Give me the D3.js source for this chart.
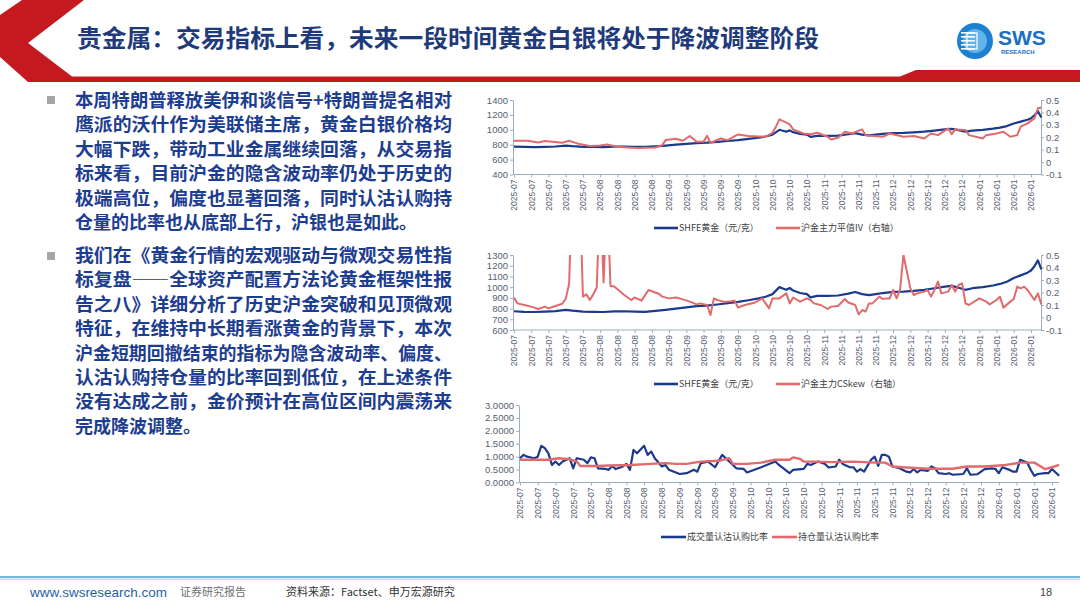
<!DOCTYPE html>
<html lang="zh">
<head>
<meta charset="UTF-8">
<title>贵金属 交易指标</title>
<script src="https://cdn.jsdelivr.net/npm/d3@7"></script>
<style>
  body { margin: 0; background: #fff; }
  svg { display: block; }
  .cjk { font-family: "Noto Sans CJK SC", "Noto Sans", sans-serif; }
  .num { font-family: "Liberation Sans", Arial, sans-serif; }
</style>
</head>
<body>
<svg id="slide" width="1080" height="608"></svg>
<script>
// ---- data (day index = trading day since start) ----
const tickLabelsTop = [
  "2025-07","2025-07","2025-07","2025-07","2025-07",
  "2025-08","2025-08","2025-08","2025-08",
  "2025-09","2025-09","2025-09","2025-09","2025-09",
  "2025-10","2025-10","2025-10","2025-10",
  "2025-11","2025-11","2025-11","2025-11",
  "2025-12","2025-12","2025-12","2025-12","2025-12",
  "2026-01","2026-01","2026-01","2026-01"
];
const tickLabelsBottom = [
  "2025-07","2025-07","2025-07","2025-07","2025-07",
  "2025-08","2025-08","2025-08","2025-08",
  "2025-09","2025-09","2025-09","2025-09",
  "2025-10","2025-10","2025-10","2025-10","2025-10",
  "2025-11","2025-11","2025-11","2025-11",
  "2025-12","2025-12","2025-12","2025-12","2025-12",
  "2026-01","2026-01","2026-01","2026-01"
];

// SHFE gold, yuan/g
const goldPrice = [[0,775],[3,770],[6,768],[9,772],[12,776],[15,788],[17,780],[20,772],[23,770],[26,768],[29,774],[32,775],[35,772],[38,770],[41,778],[44,788],[47,800],[50,812],[53,822],[56,828],[59,838],[62,850],[65,862],[68,878],[71,895],[73,910],[75,935],[77,1000],[78,988],[79,975],[80,992],[81,968],[83,945],[85,935],[86,905],[88,918],[91,918],[94,922],[97,940],[99,955],[101,935],[103,925],[105,935],[107,945],[110,955],[113,958],[116,965],[119,975],[122,990],[125,1005],[127,1012],[129,995],[131,975],[133,990],[136,1000],[139,1015],[141,1030],[143,1050],[145,1085],[147,1110],[149,1135],[150,1155],[151,1195],[152,1250],[153,1165]];

// 沪金主力平值IV (right axis)
const atmIV = [[0,0.172],[4,0.172],[7,0.158],[9,0.169],[14,0.156],[16,0.172],[19,0.145],[22,0.129],[25,0.134],[27,0.142],[30,0.123],[33,0.118],[36,0.113],[41,0.118],[43,0.137],[44,0.177],[47,0.188],[49,0.172],[51,0.21],[53,0.164],[55,0.164],[56,0.212],[57,0.156],[60,0.19],[62,0.177],[65,0.223],[68,0.21],[73,0.204],[75,0.236],[76,0.285],[77,0.344],[79,0.317],[80,0.304],[81,0.263],[84,0.23],[86,0.225],[88,0.236],[91,0.204],[92,0.182],[94,0.196],[96,0.244],[98,0.23],[101,0.263],[102,0.217],[107,0.204],[109,0.23],[113,0.204],[116,0.21],[119,0.19],[121,0.23],[123,0.217],[126,0.271],[127,0.225],[128,0.263],[131,0.258],[132,0.217],[136,0.19],[137,0.217],[140,0.23],[142,0.244],[144,0.204],[146,0.217],[147,0.285],[149,0.312],[151,0.352],[152,0.433],[153,0.44]];

// 沪金主力CSkew (right axis), spikes run off the top of the plot
const cSkew = [[0,0.159],[1,0.113],[3,0.1],[6,0.079],[7,0.068],[9,0.087],[10,0.073],[12,0.092],[14,0.11],[15,0.15],[16,0.27],[17,1.2],[18,1.5],[19,1.1],[20,0.167],[21,0.185],[22,0.14],[23,0.185],[24,0.24],[25,1.0],[26,0.28],[27,1.0],[28,0.25],[29,0.25],[32,0.18],[34,0.14],[35,0.16],[37,0.135],[39,0.22],[42,0.19],[43,0.167],[45,0.153],[47,0.16],[49,0.145],[51,0.127],[53,0.105],[54,0.113],[56,0.1],[57,0.02],[58,0.153],[59,0.14],[61,0.125],[63,0.13],[64,0.135],[65,0.08],[67,0.1],[70,0.12],[72,0.153],[73,0.113],[74,0.073],[75,0.153],[77,0.153],[79,0.193],[80,0.113],[81,0.16],[83,0.127],[85,0.153],[86,0.14],[87,0.113],[89,0.1],[91,0.068],[92,0.087],[94,0.092],[96,0.148],[97,0.12],[99,0.1],[100,0.025],[101,0.06],[102,0.047],[103,0.113],[104,0.113],[106,0.167],[107,0.148],[108,0.153],[109,0.153],[110,0.22],[111,0.153],[112,0.22],[113,0.5],[115,0.233],[116,0.18],[117,0.193],[119,0.207],[120,0.22],[121,0.167],[122,0.22],[123,0.287],[124,0.193],[126,0.207],[127,0.26],[128,0.207],[129,0.26],[130,0.273],[131,0.113],[132,0.1],[135,0.153],[137,0.127],[138,0.105],[140,0.14],[141,0.167],[142,0.079],[144,0.127],[145,0.148],[146,0.247],[147,0.233],[148,0.247],[149,0.22],[151,0.14],[152,0.193],[153,0.105]];

// 成交量认沽认购比率
const volumePCR = [[0,0.94],[1,1.07],[2,1.0],[4,0.94],[5,1.0],[6,1.42],[7,1.33],[8,1.13],[9,0.68],[10,0.81],[11,0.68],[12,0.81],[14,0.94],[15,0.55],[16,0.94],[18,0.88],[19,0.75],[20,0.97],[21,0.94],[22,0.55],[24,0.53],[25,0.49],[26,0.64],[27,0.52],[29,0.62],[30,0.72],[31,0.49],[32,1.26],[33,1.13],[35,1.42],[36,1.07],[37,1.2],[38,0.94],[40,0.62],[41,0.68],[42,0.49],[45,0.33],[47,0.36],[49,0.49],[50,0.42],[51,0.75],[53,0.81],[55,0.59],[57,1.07],[58,0.94],[59,0.81],[61,0.55],[63,0.53],[64,0.39],[68,0.59],[72,0.81],[73,0.68],[76,0.36],[77,0.49],[80,0.53],[81,0.72],[82,0.68],[84,0.81],[86,0.72],[87,0.58],[89,0.62],[90,0.88],[91,0.72],[93,0.59],[94,0.59],[95,0.42],[96,0.52],[97,0.42],[99,0.88],[100,1.0],[101,0.64],[102,1.07],[103,1.07],[104,1.0],[105,0.62],[107,0.55],[109,0.42],[110,0.39],[111,0.52],[112,0.39],[113,0.49],[115,0.45],[116,0.62],[117,0.55],[118,0.36],[120,0.33],[121,0.36],[122,0.3],[125,0.33],[126,0.55],[127,0.3],[129,0.32],[131,0.52],[133,0.55],[134,0.53],[135,0.36],[136,0.59],[138,0.49],[139,0.42],[140,0.42],[141,0.88],[143,0.77],[144,0.49],[145,0.26],[146,0.33],[148,0.36],[149,0.36],[150,0.52],[152,0.26]];

// 持仓量认沽认购比率
const oiPCR = [[0,0.88],[8,0.88],[11,0.94],[14,0.9],[16,0.81],[17,0.64],[22,0.64],[25,0.66],[31,0.68],[37,0.72],[41,0.75],[44,0.72],[47,0.72],[51,0.81],[56,0.84],[59,0.94],[60,0.72],[64,0.72],[68,0.77],[72,0.88],[76,0.88],[77,0.97],[79,0.91],[80,0.81],[83,0.81],[88,0.79],[94,0.81],[100,0.77],[103,0.77],[105,0.62],[109,0.58],[115,0.53],[122,0.53],[126,0.62],[131,0.62],[137,0.68],[141,0.77],[145,0.77],[148,0.52],[150,0.59],[152,0.68]];

const goldTicks = [400, 600, 800, 1000, 1200, 1400];
const goldTicks2 = [600, 700, 800, 900, 1000, 1100, 1200, 1300];
const rightTicks = [-0.1, 0, 0.1, 0.2, 0.3, 0.4, 0.5];
const pcrTicks = [0, 0.5, 1, 1.5, 2, 2.5, 3];

const titleText = "贵金属：交易指标上看，未来一段时间黄金白银将处于降波调整阶段";
const para1 = [
  "本周特朗普释放美伊和谈信号+特朗普提名相对",
  "鹰派的沃什作为美联储主席，黄金白银价格均",
  "大幅下跌，带动工业金属继续回落，从交易指",
  "标来看，目前沪金的隐含波动率仍处于历史的",
  "极端高位，偏度也显著回落，同时认沽认购持",
  "仓量的比率也从底部上行，沪银也是如此。"
];
const para2 = [
  "我们在《黄金行情的宏观驱动与微观交易性指",
  "标复盘——全球资产配置方法论黄金框架性报",
  "告之八》详细分析了历史沪金突破和见顶微观",
  "特征，在维持中长期看涨黄金的背景下，本次",
  "沪金短期回撤结束的指标为隐含波动率、偏度、",
  "认沽认购持仓量的比率回到低位，在上述条件",
  "没有达成之前，金价预计在高位区间内震荡来",
  "完成降波调整。"
];

const BLUE = "#1b3a8c";
const RED = "#e06a6c";
const AXIS = "#9eacc0";
const TICKTXT = "#556070";
const TEXTBLUE = "#1d3d8f";

const svg = d3.select("#slide");

// ---- header ----
svg.append("polygon")
  .attr("points", "22,0 84,0 28,43 72,76.5 900,76.5 916,70 1080,70 1080,82 28,82 0,57 0,15")
  .attr("fill", "#c41a1f");

svg.append("text").attr("class", "cjk")
  .attr("x", 77).attr("y", 47)
  .attr("font-size", 24).attr("font-weight", 700)
  .attr("fill", "#1e3a7a")
  .attr("textLength", 742).attr("lengthAdjust", "spacingAndGlyphs")
  .text(titleText);

// logo
const logo = svg.append("g");
logo.append("circle").attr("cx", 975).attr("cy", 41).attr("r", 18).attr("fill", "#1f7fd0");
logo.append("circle").attr("cx", 975).attr("cy", 41).attr("r", 12).attr("fill", "#5fb4ea");
[-8, -4, 0, 4, 8].forEach(dy => {
  logo.append("rect").attr("x", 961).attr("y", 40 + dy).attr("width", 14).attr("height", 1.6).attr("fill", "#fff");
});
logo.append("rect").attr("x", 967).attr("y", 33).attr("width", 10).attr("height", 16).attr("fill", "none")
  .attr("stroke", "#fff").attr("stroke-width", 1.2);
logo.append("text").attr("class", "num").attr("x", 998).attr("y", 45)
  .attr("font-size", 21).attr("font-weight", 700).attr("fill", "#1a6fc4").text("SWS");
logo.append("text").attr("class", "num").attr("x", 1001).attr("y", 54)
  .attr("font-size", 6).attr("font-weight", 700).attr("fill", "#1a6fc4").text("RESEARCH");

// ---- body text ----
function paragraph(lines, y0, bulletY) {
  svg.append("rect").attr("x", 47).attr("y", bulletY).attr("width", 8).attr("height", 8).attr("fill", "#a6a6a6");
  lines.forEach((ln, i) => {
    const t = svg.append("text").attr("class", "cjk")
      .attr("x", 75).attr("y", y0 + i * 24.4)
      .attr("font-size", 18).attr("font-weight", 700).attr("fill", TEXTBLUE)
      .text(ln);
    if (i < lines.length - 1) {
      t.attr("textLength", ln.length > 21 ? 384 : 377).attr("lengthAdjust", "spacingAndGlyphs");
    }
  });
}
paragraph(para1, 107, 96);
paragraph(para2, 262, 252);

// ---- charts ----
function drawChart(c) {
  const g = svg.append("g");
  const x = d3.scaleLinear().domain([0, 150]).range([c.x0, c.x150]);
  const yL = d3.scaleLinear().domain(c.leftDomain).range([c.yBottom, c.yTop]);

  const clipId = "clip" + c.id;
  svg.append("clipPath").attr("id", clipId).append("rect")
    .attr("x", c.axisX).attr("y", c.yTop).attr("width", c.xEnd - c.axisX + 4).attr("height", c.yBottom - c.yTop);

  // left axis
  const gl = g.append("g").attr("transform", `translate(${c.axisX},0)`)
    .call(d3.axisLeft(yL).tickValues(c.leftTicks).tickSize(3).tickSizeOuter(0).tickFormat(c.leftFmt));
  gl.select(".domain").attr("stroke", AXIS);
  gl.selectAll(".tick line").attr("stroke", AXIS);
  gl.selectAll(".tick text").attr("class", "num").attr("font-size", 9.5).attr("fill", TICKTXT).attr("x", -5);

  let yR = null;
  if (c.rightDomain) {
    yR = d3.scaleLinear().domain(c.rightDomain).range([c.yBottom, c.yTop]);
    const gr = g.append("g").attr("transform", `translate(${c.xEnd},0)`)
      .call(d3.axisRight(yR).tickValues(rightTicks).tickSize(3).tickSizeOuter(0).tickFormat(d => String(+d.toFixed(1))));
    gr.select(".domain").attr("stroke", AXIS);
    gr.selectAll(".tick line").attr("stroke", AXIS);
    gr.selectAll(".tick text").attr("class", "num").attr("font-size", 9.5).attr("fill", TICKTXT).attr("x", 5);
  }

  // category axis
  const gb = g.append("g").attr("transform", `translate(0,${c.yBottom})`)
    .call(d3.axisBottom(x).tickValues(d3.range(0, 151, 5)).tickSize(3).tickSizeOuter(0)
      .tickFormat((d, i) => c.labels[i]));
  gb.select(".domain").remove();
  gb.append("line").attr("x1", c.axisX).attr("x2", c.xEnd).attr("stroke", AXIS);
  gb.selectAll(".tick line").attr("stroke", AXIS);
  gb.selectAll(".tick text").attr("class", "num").attr("font-size", 8.5).attr("fill", TICKTXT)
    .attr("transform", "rotate(-90)").attr("x", -5).attr("y", 0).attr("dy", "0.33em")
    .attr("text-anchor", "end");

  // series
  c.series.forEach(s => {
    const ys = s.axis === "right" ? yR : yL;
    g.append("path").datum(s.data)
      .attr("clip-path", `url(#${clipId})`)
      .attr("fill", "none").attr("stroke", s.color).attr("stroke-width", s.width)
      .attr("stroke-linejoin", "round")
      .attr("d", d3.line().x(d => x(d[0])).y(d => ys(d[1])));
  });

  // legend
  const lg = g.append("g");
  c.series.forEach((s, i) => {
    const lx = c.legendX[i];
    lg.append("line").attr("x1", lx).attr("x2", lx + c.legendLen).attr("y1", c.legendY).attr("y2", c.legendY)
      .attr("stroke", s.color).attr("stroke-width", 2.6);
    lg.append("text").attr("class", "cjk").attr("x", lx + c.legendLen + 1).attr("y", c.legendY + 3.2)
      .attr("font-size", 9).attr("fill", "#404040").text(s.name);
  });
}

drawChart({
  id: 1, axisX: 513, x0: 514, x150: 1031, xEnd: 1041, yTop: 100, yBottom: 174.5,
  leftDomain: [400, 1400], leftTicks: goldTicks, leftFmt: d3.format("d"),
  rightDomain: [-0.1, 0.5], labels: tickLabelsTop,
  series: [
    { name: "SHFE黄金（元/克）", data: goldPrice, color: BLUE, width: 2.2, axis: "left" },
    { name: "沪金主力平值IV（右轴）", data: atmIV, color: RED, width: 2, axis: "right" }
  ],
  legendX: [654, 776], legendLen: 24, legendY: 228
});

drawChart({
  id: 2, axisX: 513, x0: 514, x150: 1031, xEnd: 1041, yTop: 255, yBottom: 330,
  leftDomain: [600, 1300], leftTicks: goldTicks2, leftFmt: d3.format("d"),
  rightDomain: [-0.1, 0.5], labels: tickLabelsTop,
  series: [
    { name: "SHFE黄金（元/克）", data: goldPrice, color: BLUE, width: 2.2, axis: "left" },
    { name: "沪金主力CSkew（右轴）", data: cSkew, color: RED, width: 2, axis: "right" }
  ],
  legendX: [654, 776], legendLen: 24, legendY: 384
});

drawChart({
  id: 3, axisX: 519, x0: 520, x150: 1052, xEnd: 1059, yTop: 405, yBottom: 482.5,
  leftDomain: [0, 3], leftTicks: pcrTicks, leftFmt: d3.format(".4f"),
  rightDomain: null, labels: tickLabelsBottom,
  series: [
    { name: "成交量认沽认购比率", data: volumePCR, color: BLUE, width: 2.2, axis: "left" },
    { name: "持仓量认沽认购比率", data: oiPCR, color: RED, width: 2.4, axis: "left" }
  ],
  legendX: [661, 772], legendLen: 25, legendY: 537
});
// chart 3 has no right axis line drawn in the reference
svg.selectAll("g").filter(function () { return false; });

// ---- footer ----
svg.append("line").attr("x1", 0).attr("x2", 1080).attr("y1", 577).attr("y2", 577)
  .attr("stroke", "#3aa6d4").attr("stroke-width", 1.6);
svg.append("line").attr("x1", 0).attr("x2", 1080).attr("y1", 579.2).attr("y2", 579.2)
  .attr("stroke", "#b5e0f0").attr("stroke-width", 1.4);
svg.append("text").attr("class", "num").attr("x", 30).attr("y", 597)
  .attr("font-size", 13).attr("fill", "#1f5fa8")
  .attr("textLength", 137).attr("lengthAdjust", "spacingAndGlyphs").text("www.swsresearch.com");
svg.append("text").attr("class", "cjk").attr("x", 180).attr("y", 596)
  .attr("font-size", 11).attr("fill", "#707070").text("证券研究报告");
svg.append("text").attr("class", "cjk").attr("x", 286).attr("y", 596)
  .attr("font-size", 11).attr("fill", "#333").text("资料来源：Factset、申万宏源研究");
svg.append("text").attr("class", "num").attr("x", 1040).attr("y", 596)
  .attr("font-size", 11).attr("fill", "#444").text("18");
</script>
</body>
</html>
